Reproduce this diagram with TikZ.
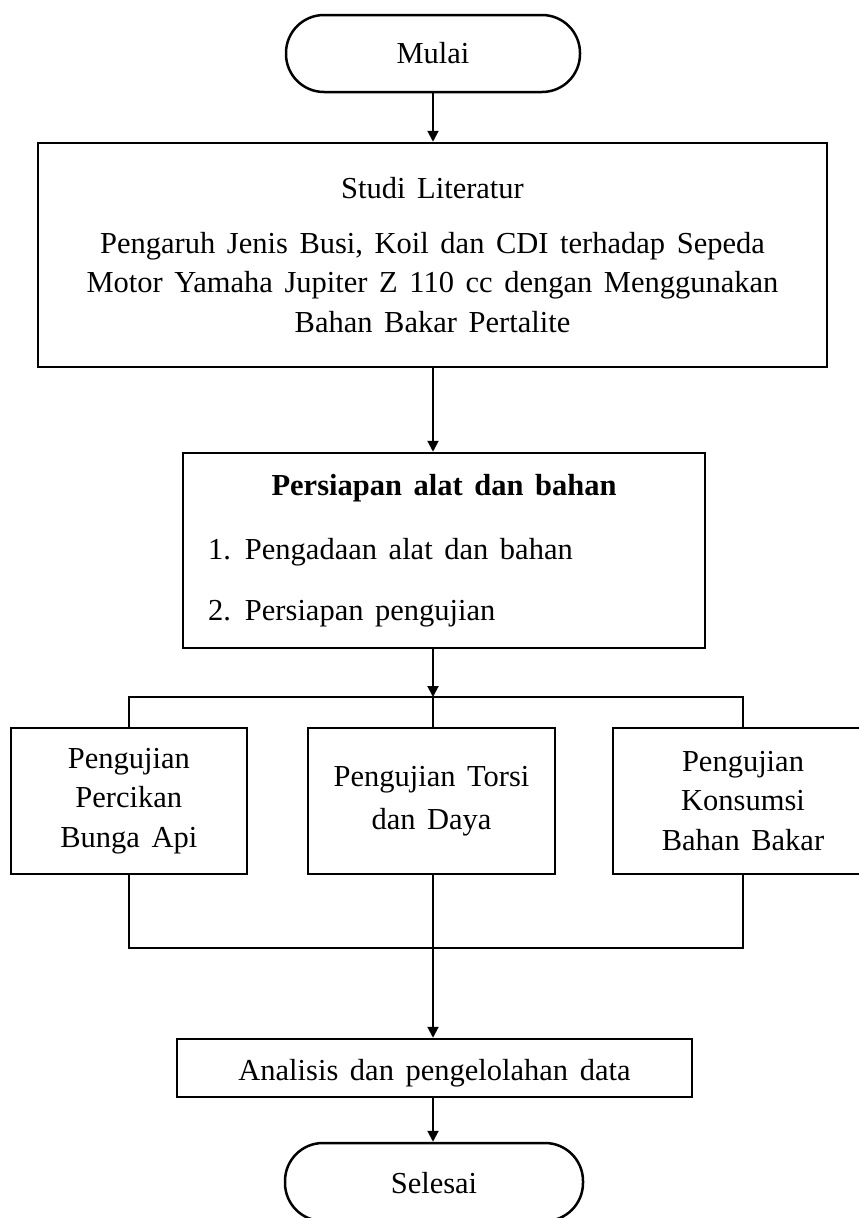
\documentclass[tikz,border=0pt]{standalone}
\usepackage{fontspec}
\setmainfont{Liberation Serif}
\usetikzlibrary{arrows.meta}
\newcommand\diagfont{\fontsize{30.5}{39.5}\selectfont\spaceskip=0.38em plus 0.1em\relax}
\begin{document}
\begin{tikzpicture}[x=1pt,y=1pt,
  box/.style={draw, line width=2.5pt, inner sep=0pt, align=center, font=\diagfont},
  term/.style={box, rounded corners=38pt},
  ln/.style={line width=2pt},
  arr/.style={ln, -{Triangle[length=11pt,width=11pt]}}]
\useasboundingbox (0,0) rectangle (859,-1218);
\clip (0,0) rectangle (859,-1218);

\node[term, minimum width=294pt, minimum height=77pt, text height=19pt, text depth=0pt] (mulai) at (433,-53.5) {Mulai};

\node[box, minimum width=789pt, minimum height=224pt] (studi) at (432.5,-255)
  {Studi Literatur\\[15.5pt]Pengaruh Jenis Busi, Koil dan CDI terhadap Sepeda\\Motor Yamaha Jupiter Z 110 cc dengan Menggunakan\\Bahan Bakar Pertalite};

\node[box, minimum width=522pt, minimum height=195pt] (pers) at (444,-550.5)
  {\textbf{Persiapan alat dan bahan}\\[24.5pt]\makebox[472pt][l]{\makebox[37pt][l]{1.}Pengadaan alat dan bahan}\\[21.5pt]\makebox[472pt][l]{\makebox[37pt][l]{2.}Persiapan pengujian}};

\node[box, minimum width=236pt, minimum height=146pt] (uji1) at (128.8,-801) {Pengujian\\Percikan\\Bunga Api};
\node[box, minimum width=247pt, minimum height=146pt] (uji2) at (431.5,-801) {Pengujian Torsi\\[3.5pt]dan Daya};
\node[box, minimum width=260pt, minimum height=146pt] (uji3) at (743,-801) {Pengujian\\Konsumsi\\Bahan Bakar};

\node[box, minimum width=515pt, minimum height=58pt, text height=24pt, text depth=0pt] (ana) at (434.5,-1068) {Analisis dan pengelolahan data};
\node[term, minimum width=298pt, minimum height=78pt, text height=22pt, text depth=0pt] (sel) at (434,-1182) {Selesai};

\coordinate (br) at (433,-697);
\coordinate (mg) at (433,-948);

\draw[arr] (mulai.south) -- (mulai.south |- studi.north);
\draw[arr] (br |- studi.south) -- (br |- pers.north);
\draw[arr] (br |- pers.south) -- (br);
\draw[ln] (uji1.north) -- (uji1.north |- br) -- (uji3.north |- br) -- (uji3.north);
\draw[ln] (br) -- (br |- uji2.north);
\draw[ln] (uji1.south) -- (uji1.south |- mg) -- (uji3.south |- mg) -- (uji3.south);
\draw[ln] (br |- uji2.south) -- (mg);
\draw[arr] (mg) -- (mg |- ana.north);
\draw[arr] (br |- ana.south) -- (br |- sel.north);
\end{tikzpicture}
\end{document}
